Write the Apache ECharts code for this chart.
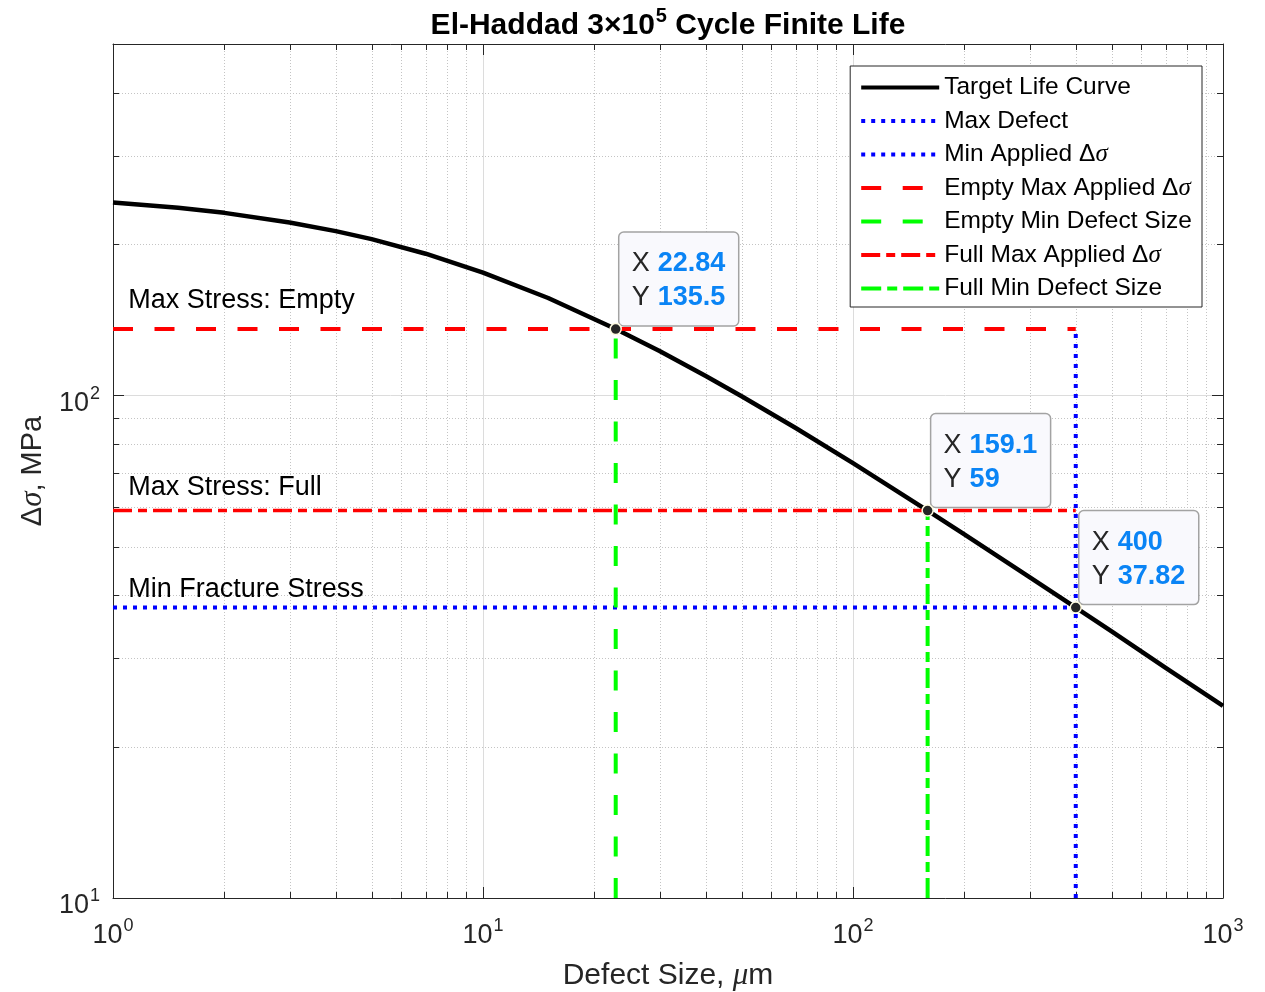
<!DOCTYPE html>
<html>
<head>
<meta charset="utf-8">
<script src="https://cdn.jsdelivr.net/npm/echarts@6/dist/echarts.min.js"></script>
<style>
html, body { margin: 0; padding: 0; background: #fff; }
#chart { width: 1265px; height: 992px; }
</style>
</head>
<body>
<div id="chart"></div>
<script>
// El-Haddad target life curve
const curveX = [1, 1.5, 2, 3, 4, 5, 7, 10, 15, 22.84, 30, 40, 50, 70, 100, 159.1, 200, 300, 400, 500, 700, 1000]
const curveY = [241.9, 236.1, 230.7, 220.8, 212.2, 204.5, 191.3, 175.5, 156.2, 135.5, 122.5, 109.3, 99.6, 86.1, 73.3, 59, 52.9, 43.5, 37.82, 33.9, 28.7, 24.1]

// reference lines
const maxDefect = 400
const minApplied = 37.82
const emptyMaxApplied = 135.5
const emptyMinDefect = 22.84
const fullMaxApplied = 59
const fullMinDefect = 159.1

// data tips
const tipX = [22.84, 159.1, 400]
const tipY = [135.5, 59, 37.82]
const tipXText = ['22.84', '159.1', '400']
const tipYText = ['135.5', '59', '37.82']

// text notes
const noteText = ['Max Stress: Empty', 'Max Stress: Full', 'Min Fracture Stress']
const noteX = [1.1, 1.1, 1.1]
const noteY = [154.5, 65.5, 41]

// axes
const xMin = 1, xMax = 1000, yMin = 10, yMax = 500
const xMinor = [2, 3, 4, 5, 6, 7, 8, 9, 20, 30, 40, 50, 60, 70, 80, 90, 200, 300, 400, 500, 600, 700, 800, 900]
const yMinor = [20, 30, 40, 50, 60, 70, 80, 90, 200, 300, 400]

const F = "'Liberation Sans', Arial, Helvetica, sans-serif"
const SERIF = "'Liberation Serif', 'DejaVu Serif', serif"
const AX = '#262626'
const G = { left: 113, right: 42, top: 44, bottom: 94 }

const chart = echarts.init(document.getElementById('chart'))

function powLabel(v) {
  const l = Math.log10(v)
  const e = Math.round(l)
  if (Math.abs(l - e) > 1e-6) return ''
  return '{b|10}{s|' + e + '}'
}

const tickRich = {
  b: { fontSize: 27, fontFamily: F, color: AX, lineHeight: 27, verticalAlign: 'bottom' },
  s: { fontSize: 18, fontFamily: F, color: AX, lineHeight: 18, padding: [0, 0, 14, 1], verticalAlign: 'bottom' }
}

function seg(x1, y1, x2, y2) {
  return [[x1, y1], [x2, y2]]
}

function refLine(name, data, color, width, dash) {
  return {
    name, type: 'line', data, symbol: 'none', showSymbol: false, z: 4,
    lineStyle: { color, width, type: dash, cap: 'butt' },
    itemStyle: { color }
  }
}

const crisp = v => Math.round(v) + 0.5

const option = {
  animation: false,
  grid: { left: G.left, right: G.right, top: G.top, bottom: G.bottom, containLabel: false, outerBoundsMode: 'none' },
  graphic: [{
    type: 'text',
    x: G.left + (1265 - G.left - G.right) / 2,
    y: 26,
    style: {
      text: '{t|El-Haddad 3×10}{s|5}{t| Cycle Finite Life}',
      align: 'center', verticalAlign: 'middle',
      rich: {
        t: { fontSize: 30, fontWeight: 'bold', fontFamily: F, fill: '#000', lineHeight: 30, verticalAlign: 'bottom' },
        s: { fontSize: 20, fontWeight: 'bold', fontFamily: F, fill: '#000', lineHeight: 20, padding: [0, 0, 15, 1], verticalAlign: 'bottom' }
      }
    }
  }],
  legend: {
    data: ['Target Life Curve', 'Max Defect', 'Min Applied Δσ', 'Empty Max Applied Δσ',
      'Empty Min Defect Size', 'Full Max Applied Δσ', 'Full Min Defect Size'],
    orient: 'vertical', right: 63, top: 66,
    itemWidth: 78, itemHeight: 24, itemGap: 8.5,
    padding: [9, 10, 6, 9],
    borderColor: AX, borderWidth: 1, backgroundColor: '#fff',
    selectedMode: false,
    itemStyle: { opacity: 0 },
    lineStyle: { width: 4 },
    textStyle: {
      fontSize: 24.5, fontFamily: F, color: '#000', lineHeight: 24,
      rich: { i: { fontSize: 25, fontFamily: SERIF, fontStyle: 'italic', color: '#000', lineHeight: 24 } }
    },
    formatter: n => n.endsWith('σ') ? n.slice(0, -1) + '{i|σ}' : n
  },
  xAxis: [{
    type: 'log', logBase: 10, min: xMin, max: xMax,
    name: '{n|Defect Size, }{i|μ}{n|m}', nameLocation: 'middle', nameGap: 62,
    nameTextStyle: {
      rich: {
        n: { fontSize: 30, fontFamily: F, color: AX },
        i: { fontSize: 31, fontFamily: SERIF, fontStyle: 'italic', color: AX }
      }
    },
    axisLine: { show: true, lineStyle: { color: AX, width: 1 } },
    axisTick: { show: true, inside: true, length: 11, lineStyle: { color: AX } },
    axisLabel: { margin: 24, formatter: powLabel, rich: tickRich },
    splitLine: { show: true, lineStyle: { color: '#dcdcdc', width: 1 } }
  }, {
    type: 'log', logBase: 10, min: xMin, max: xMax, position: 'top',
    axisLine: { show: true, lineStyle: { color: AX, width: 1 } },
    axisTick: { show: true, inside: true, length: 11, lineStyle: { color: AX } },
    axisLabel: { show: false },
    splitLine: { show: false }
  }],
  yAxis: [{
    type: 'log', logBase: 10, min: yMin, max: yMax,
    name: '{n|Δ}{i|σ}{n|, MPa}', nameLocation: 'middle', nameGap: 62,
    nameTextStyle: {
      rich: {
        n: { fontSize: 29, fontFamily: F, color: AX },
        i: { fontSize: 31, fontFamily: SERIF, fontStyle: 'italic', color: AX }
      }
    },
    axisLine: { show: true, lineStyle: { color: AX, width: 1 } },
    axisTick: { show: true, inside: true, length: 11, lineStyle: { color: AX } },
    axisLabel: { margin: 13, padding: [16, 0, 0, 0], formatter: powLabel, rich: tickRich },
    splitLine: { show: true, lineStyle: { color: '#dcdcdc', width: 1 } }
  }, {
    type: 'log', logBase: 10, min: yMin, max: yMax, position: 'right',
    axisLine: { show: true, lineStyle: { color: AX, width: 1 } },
    axisTick: { show: true, inside: true, length: 11, lineStyle: { color: AX } },
    axisLabel: { show: false },
    splitLine: { show: false }
  }],
  series: [
    // minor grid + minor ticks along x
    {
      type: 'custom', silent: true, z: 1,
      data: xMinor.map(v => [v, yMin]),
      renderItem(params, api) {
        const v = api.value(0)
        const a = api.coord([v, yMin]), b = api.coord([v, yMax])
        const x = crisp(a[0])
        return {
          type: 'group', children: [
            { type: 'line', shape: { x1: x, y1: a[1], x2: x, y2: b[1] }, style: { stroke: '#c4c4c4', lineWidth: 1, lineDash: [1, 2] } },
            { type: 'line', shape: { x1: x, y1: a[1], x2: x, y2: a[1] - 6 }, style: { stroke: AX, lineWidth: 1 } },
            { type: 'line', shape: { x1: x, y1: b[1], x2: x, y2: b[1] + 6 }, style: { stroke: AX, lineWidth: 1 } }
          ]
        }
      }
    },
    // minor grid + minor ticks along y
    {
      type: 'custom', silent: true, z: 1,
      data: yMinor.map(v => [xMin, v]),
      renderItem(params, api) {
        const v = api.value(1)
        const a = api.coord([xMin, v]), b = api.coord([xMax, v])
        const y = crisp(a[1])
        return {
          type: 'group', children: [
            { type: 'line', shape: { x1: a[0], y1: y, x2: b[0], y2: y }, style: { stroke: '#c4c4c4', lineWidth: 1, lineDash: [1, 2] } },
            { type: 'line', shape: { x1: a[0], y1: y, x2: a[0] + 6, y2: y }, style: { stroke: AX, lineWidth: 1 } },
            { type: 'line', shape: { x1: b[0], y1: y, x2: b[0] - 6, y2: y }, style: { stroke: AX, lineWidth: 1 } }
          ]
        }
      }
    },
    {
      name: 'Target Life Curve', type: 'line', symbol: 'none', showSymbol: false, z: 3,
      data: curveX.map((x, i) => [x, curveY[i]]),
      lineStyle: { color: '#000', width: 4.5, join: 'round' },
      itemStyle: { color: '#000' }
    },
    refLine('Max Defect', seg(maxDefect, yMin, maxDefect, emptyMaxApplied), '#0000ff', 4, [4, 6]),
    refLine('Min Applied Δσ', seg(xMin, minApplied, maxDefect, minApplied), '#0000ff', 4, [4, 6]),
    refLine('Empty Max Applied Δσ', seg(xMin, emptyMaxApplied, maxDefect, emptyMaxApplied), '#ff0000', 4, [20, 21.5]),
    refLine('Empty Min Defect Size', seg(emptyMinDefect, yMin, emptyMinDefect, emptyMaxApplied), '#00ff00', 4, [20, 21.5]),
    refLine('Full Max Applied Δσ', seg(xMin, fullMaxApplied, maxDefect, fullMaxApplied), '#ff0000', 3.5, [19, 6, 9, 6]),
    refLine('Full Min Defect Size', seg(fullMinDefect, yMin, fullMinDefect, fullMaxApplied), '#00ff00', 4, [20, 6, 10, 6]),
    // text notes
    {
      type: 'custom', silent: true, z: 6,
      data: noteX.map((x, i) => [x, noteY[i]]),
      renderItem(params, api) {
        const p = api.coord([api.value(0), api.value(1)])
        return {
          type: 'text', x: p[0], y: p[1],
          style: { text: noteText[params.dataIndex], font: '27px ' + F, fill: '#000', align: 'left', verticalAlign: 'middle' }
        }
      }
    },
    // data tips
    {
      type: 'custom', silent: true, z: 10,
      data: tipX.map((x, i) => [x, tipY[i]]),
      renderItem(params, api) {
        const p = api.coord([api.value(0), api.value(1)])
        const bx = p[0] + 3, by = p[1] - 97
        const i = params.dataIndex
        return {
          type: 'group', children: [
            { type: 'rect', shape: { x: bx, y: by, width: 120, height: 94, r: 5 }, style: { fill: '#f9f9fd', stroke: '#a3a3a3', lineWidth: 1.5 } },
            { type: 'text', x: bx + 13, y: by + 32, style: { text: 'X', font: '27px ' + F, fill: AX, verticalAlign: 'middle' } },
            { type: 'text', x: bx + 39, y: by + 32, style: { text: tipXText[i], font: 'bold 27px ' + F, fill: '#0a84f5', verticalAlign: 'middle' } },
            { type: 'text', x: bx + 13, y: by + 66, style: { text: 'Y', font: '27px ' + F, fill: AX, verticalAlign: 'middle' } },
            { type: 'text', x: bx + 39, y: by + 66, style: { text: tipYText[i], font: 'bold 27px ' + F, fill: '#0a84f5', verticalAlign: 'middle' } },
            { type: 'circle', shape: { cx: p[0], cy: p[1], r: 5.5 }, style: { fill: AX, stroke: '#fffbe0', lineWidth: 1.5 } }
          ]
        }
      }
    }
  ]
}

chart.setOption(option)
</script>
</body>
</html>
